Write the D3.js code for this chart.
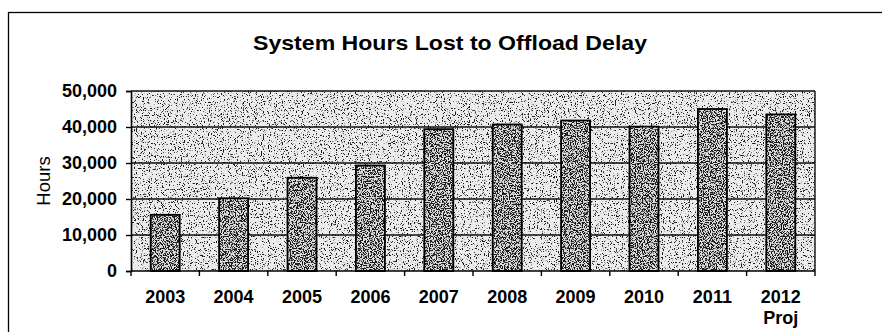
<!DOCTYPE html>
<html>
<head>
<meta charset="utf-8">
<script src="https://cdn.jsdelivr.net/npm/d3@7"></script>
<style>
  html, body { margin: 0; padding: 0; background: #fff; }
  svg { display: block; }
  text { font-family: Arial, "Liberation Sans", sans-serif; fill: #000; }
</style>
</head>
<body>
<script>
// Annual system hours lost to ambulance offload delay
const years = ["2003", "2004", "2005", "2006", "2007", "2008", "2009", "2010", "2011", "2012"];
const yearNotes = ["", "", "", "", "", "", "", "", "", "Proj"];
const hoursLost = [15600, 20200, 25900, 29300, 39400, 40700, 41800, 40100, 45000, 43500];
const yTicks = [0, 10000, 20000, 30000, 40000, 50000];

const W = 882, H = 332;
const plot = { left: 131, right: 815, top: 91, bottom: 271 };

const svg = d3.select("body").append("svg").attr("width", W).attr("height", H);

// Speckled fill: threshold fine noise into dark dots over a light base
const defs = svg.append("defs");
function speckle(id, seed, slope, offset) {
  const f = defs.append("filter").attr("id", id)
    .attr("x", 0).attr("y", 0).attr("width", 1).attr("height", 1)
    .attr("color-interpolation-filters", "sRGB");
  f.append("feTurbulence").attr("type", "fractalNoise")
    .attr("baseFrequency", 0.85).attr("numOctaves", 2).attr("seed", seed).attr("result", "n");
  f.append("feColorMatrix").attr("in", "n").attr("type", "matrix")
    .attr("values", `0 0 0 0 0.1  0 0 0 0 0.1  0 0 0 0 0.1  ${slope} 0 0 0 ${offset}`)
    .attr("result", "dots");
  f.append("feComposite").attr("in", "dots").attr("in2", "SourceAlpha")
    .attr("operator", "in").attr("result", "clip");
  const m = f.append("feMerge");
  m.append("feMergeNode").attr("in", "SourceGraphic");
  m.append("feMergeNode").attr("in", "clip");
}
speckle("bgSpeck", 4, 12, -7.1);
speckle("barSpeck", 9, 12, -5.7);

// Outer chart frame
svg.append("rect").attr("x", 8.5).attr("y", 12.5).attr("width", 900).attr("height", 400)
  .attr("fill", "none").attr("stroke", "#000").attr("stroke-width", 1.3);

const x = d3.scaleBand().domain(years).range([plot.left, plot.right])
  .paddingInner(0.576).paddingOuter(0.288);
const y = d3.scaleLinear().domain([0, 50000]).range([plot.bottom, plot.top]);

// Plot area background
svg.append("rect")
  .attr("x", plot.left).attr("y", plot.top)
  .attr("width", plot.right - plot.left).attr("height", plot.bottom - plot.top)
  .attr("fill", "#ececec").attr("filter", "url(#bgSpeck)");

// Horizontal gridlines
svg.append("g").selectAll("line").data(yTicks.filter(d => d > 0)).join("line")
  .attr("x1", plot.left).attr("x2", plot.right)
  .attr("y1", d => y(d)).attr("y2", d => y(d))
  .attr("stroke", "#111").attr("stroke-width", 1.4);

// Right border of plot area
svg.append("line").attr("x1", plot.right).attr("x2", plot.right)
  .attr("y1", plot.top).attr("y2", plot.bottom)
  .attr("stroke", "#111").attr("stroke-width", 1.4);

// Bars
svg.append("g").selectAll("rect").data(years).join("rect")
  .attr("x", d => x(d))
  .attr("y", (d, i) => y(hoursLost[i]))
  .attr("width", x.bandwidth())
  .attr("height", (d, i) => y(0) - y(hoursLost[i]))
  .attr("fill", "#dcdcdc").attr("filter", "url(#barSpeck)");
svg.append("g").selectAll("rect").data(years).join("rect")
  .attr("x", d => x(d))
  .attr("y", (d, i) => y(hoursLost[i]))
  .attr("width", x.bandwidth())
  .attr("height", (d, i) => y(0) - y(hoursLost[i]))
  .attr("fill", "none").attr("stroke", "#000").attr("stroke-width", 1.8);

// Y axis
const yAxis = svg.append("g").attr("transform", `translate(${plot.left},0)`)
  .call(d3.axisLeft(y).tickValues(yTicks).tickSize(5).tickPadding(9).tickFormat(d3.format(",")));
yAxis.select(".domain").attr("stroke", "#000").attr("stroke-width", 1.6);
yAxis.selectAll(".tick line").attr("stroke", "#000").attr("stroke-width", 1.4);
yAxis.selectAll(".tick text")
  .style("font-family", 'Arial, "Liberation Sans", sans-serif')
  .style("font-size", "18px").style("font-weight", "bold").attr("fill", "#000");

// X axis: ticks at category boundaries, labels centred on bars
const xg = svg.append("g");
xg.append("line").attr("x1", plot.left).attr("x2", plot.right)
  .attr("y1", plot.bottom).attr("y2", plot.bottom)
  .attr("stroke", "#000").attr("stroke-width", 1.6);
const bounds = years.map(d => x(d) + x.bandwidth() / 2 - x.step() / 2)
  .concat([x(years[years.length - 1]) + x.bandwidth() / 2 + x.step() / 2]);
xg.selectAll("line.tk").data(bounds).join("line").attr("class", "tk")
  .attr("x1", d => d).attr("x2", d => d)
  .attr("y1", plot.bottom).attr("y2", plot.bottom + 5)
  .attr("stroke", "#000").attr("stroke-width", 1.4);
const labels = xg.selectAll("text").data(years).join("text")
  .attr("x", d => x(d) + x.bandwidth() / 2)
  .attr("y", 303)
  .attr("text-anchor", "middle")
  .style("font-size", "18px").style("font-weight", "bold");
labels.append("tspan").text(d => d);
labels.append("tspan")
  .attr("x", d => x(d) + x.bandwidth() / 2).attr("dy", 21)
  .text((d, i) => yearNotes[i]);

// Axis title
svg.append("text")
  .attr("transform", `translate(50,${(plot.top + plot.bottom) / 2}) rotate(-90)`)
  .attr("text-anchor", "middle")
  .style("font-size", "18.5px")
  .text("Hours");

// Chart title
svg.append("text")
  .attr("x", 450).attr("y", 50)
  .attr("text-anchor", "middle")
  .attr("textLength", 394).attr("lengthAdjust", "spacingAndGlyphs")
  .style("font-size", "21px").style("font-weight", "bold")
  .text("System Hours Lost to Offload Delay");
</script>
</body>
</html>
